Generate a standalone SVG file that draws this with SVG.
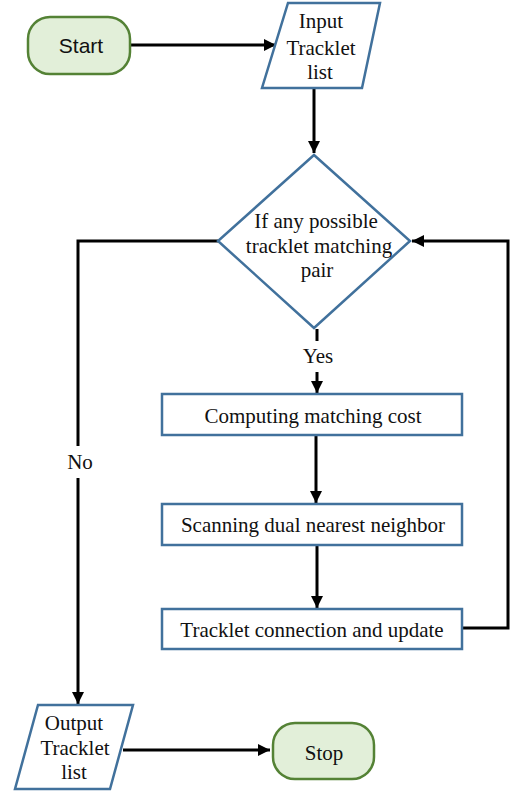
<svg xmlns="http://www.w3.org/2000/svg" width="514" height="793" viewBox="0 0 514 793">
  <style>
    .term { fill: #e2efd9; stroke: #548235; stroke-width: 2.5; }
    .proc { fill: #ffffff; stroke: #41719c; stroke-width: 2.5; }
    .lbl { font-family: "Liberation Serif", "Times New Roman", serif; font-size: 21px; fill: #111; text-anchor: middle; }
    .sans { font-family: "Liberation Sans", Arial, sans-serif; font-size: 21px; fill: #111; text-anchor: middle; }
    .wire { fill: none; stroke: #000; stroke-width: 3; }
  </style>
  <defs>
    <marker id="arrow" viewBox="0 0 10 10" refX="10" refY="5" markerWidth="4" markerHeight="4" orient="auto" markerUnits="strokeWidth">
      <path d="M0,0 L10,5 L0,10 Z" fill="#000"/>
    </marker>
  </defs>
  <rect width="514" height="793" fill="#ffffff"/>

  <g id="connectors">
    <line class="wire" x1="131" y1="45" x2="276" y2="45" marker-end="url(#arrow)"/>
    <line class="wire" x1="314" y1="89" x2="314" y2="153" marker-end="url(#arrow)"/>
    <!-- "Yes" branch, broken around its label -->
    <line class="wire" x1="317" y1="329" x2="317" y2="341"/>
    <line class="wire" x1="317" y1="372" x2="317" y2="393" marker-end="url(#arrow)"/>
    <line class="wire" x1="316" y1="436" x2="316" y2="503" marker-end="url(#arrow)"/>
    <line class="wire" x1="317" y1="546" x2="317" y2="608" marker-end="url(#arrow)"/>
    <polyline class="wire" points="463,628 508,628 508,241 412,241" marker-end="url(#arrow)"/>
    <!-- "No" branch, broken around its label -->
    <polyline class="wire" points="218,241 78,241 78,446"/>
    <line class="wire" x1="78" y1="478" x2="78" y2="704" marker-end="url(#arrow)"/>
    <line class="wire" x1="123" y1="750" x2="270" y2="750" marker-end="url(#arrow)"/>
    <text class="lbl" x="318" y="363">Yes</text>
    <text class="lbl" x="80" y="469">No</text>
  </g>

  <g id="start">
    <rect class="term" x="28" y="17" width="102" height="57" rx="22" ry="22"/>
    <text class="sans" x="81" y="53">Start</text>
  </g>

  <g id="input">
    <polygon class="proc" points="288,3 380,3 362,88 262,88"/>
    <text class="lbl" x="321" y="28">Input</text>
    <text class="lbl" x="321" y="55">Tracklet</text>
    <text class="lbl" x="320" y="79">list</text>
  </g>

  <g id="decision">
    <polygon class="proc" points="314,155 410,241 314,328 218,241"/>
    <text class="lbl" x="316" y="228">If any possible</text>
    <text class="lbl" x="319" y="253">tracklet matching</text>
    <text class="lbl" x="317" y="277">pair</text>
  </g>

  <g id="cost">
    <rect class="proc" x="162" y="394" width="300" height="41"/>
    <text class="lbl" x="313" y="423">Computing matching cost</text>
  </g>

  <g id="scan">
    <rect class="proc" x="162" y="504" width="300" height="41"/>
    <text class="lbl" x="313" y="532">Scanning dual nearest neighbor</text>
  </g>

  <g id="update">
    <rect class="proc" x="162" y="609" width="300" height="40"/>
    <text class="lbl" x="312" y="637">Tracklet connection and update</text>
  </g>

  <g id="output">
    <polygon class="proc" points="38,705 133,705 110,789 15,789"/>
    <text class="lbl" x="74" y="730">Output</text>
    <text class="lbl" x="75" y="755">Tracklet</text>
    <text class="lbl" x="74" y="779">list</text>
  </g>

  <g id="stop">
    <rect class="term" x="273" y="723" width="101" height="56" rx="22" ry="22"/>
    <text class="lbl" x="324" y="760">Stop</text>
  </g>
</svg>
